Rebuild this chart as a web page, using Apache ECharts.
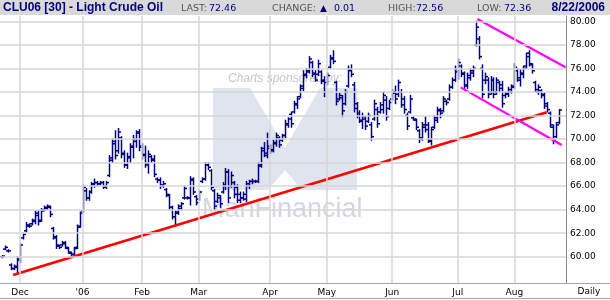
<!DOCTYPE html>
<html><head><meta charset="utf-8">
<script src="https://cdn.jsdelivr.net/npm/echarts@6/dist/echarts.min.js"></script>
<style>html,body{margin:0;padding:0;background:#fff}#c{width:610px;height:300px}</style>
</head><body><div id="c"></div><script>
// Trading-day index of the first bar (0 = Dec 1, 2005)
const firstDay = -6;
// Daily bars: [open, high, low, close]
const priceBars = [
[60.0,60.1,59.9,60.05],[60.65,60.9,60.6,60.8],[60.5,60.6,60.4,60.5],[59.3,59.4,58.9,59.0],[59.0,59.3,58.9,59.2],[59.1,60.0,58.5,59.8],
[59.7,61.1,59.5,61.0],[61.6,62.0,61.5,61.9],[62.2,62.9,62.1,62.7],[62.6,62.8,62.5,62.6],[62.8,63.2,62.7,63.1],[63.0,63.9,62.8,63.7],
[63.5,63.9,62.7,63.0],[63.1,64.1,63.0,63.9],[64.0,64.3,63.9,64.2],[64.1,64.4,64.0,64.3],[64.2,64.3,63.4,63.6],[62.4,62.5,61.5,61.7],
[61.6,61.8,60.7,61.0],[60.9,61.0,60.7,60.8],[61.0,61.3,60.9,61.1],[61.2,61.3,60.7,60.8],[60.7,60.8,60.3,60.4],[60.3,60.4,60.0,60.2],
[60.2,60.8,60.1,60.7],[60.8,62.7,60.7,62.5],[62.6,63.8,62.5,63.7],[63.9,66.1,63.8,65.9],[65.6,65.8,64.8,65.0],[65.0,65.6,64.8,65.5],
[65.5,66.3,65.4,66.2],[66.1,66.6,65.9,66.3],[66.3,66.4,66.0,66.2],[66.2,66.4,66.1,66.3],[66.3,66.4,65.8,66.0],[65.9,66.4,65.8,66.3],
[66.9,68.6,66.8,68.4],[68.2,70.0,68.0,69.8],[69.6,70.7,68.3,68.6],[69.0,70.9,68.8,70.6],[70.1,70.2,68.4,68.7],[68.8,69.0,67.6,67.8],
[67.8,68.8,67.5,68.5],[68.4,69.6,68.0,69.4],[69.3,70.3,68.4,70.0],[69.8,70.7,69.3,70.5],[70.6,70.8,69.0,69.3],[69.4,69.6,68.3,68.6],
[68.7,69.4,67.6,67.9],[67.8,69.0,67.1,68.7],[68.5,68.6,68.0,68.2],[68.3,68.6,66.8,67.0],[66.6,66.7,66.3,66.5],[66.5,66.7,65.8,66.0],
[66.1,66.4,65.9,66.2],[65.7,65.8,65.1,65.3],[65.2,65.3,64.0,64.2],[64.2,64.3,63.2,63.4],[63.4,63.9,62.6,63.8],[63.7,64.4,63.6,64.3],
[64.1,64.6,64.0,64.5],[65.0,66.0,64.9,65.8],[65.0,65.1,64.9,65.0],[65.0,66.8,64.4,66.6],[66.5,66.7,65.3,65.5],[65.1,65.2,64.4,64.6],
[64.9,65.6,64.8,65.5],[66.4,66.7,66.3,66.6],[66.6,68.0,66.5,67.8],[67.8,68.0,67.4,67.6],[67.3,67.4,65.7,65.9],[65.6,65.7,64.0,64.3],
[64.7,65.4,64.6,65.2],[65.0,65.2,64.2,64.5],[65.5,66.3,65.4,66.1],[66.0,67.5,65.7,67.2],[67.2,67.4,64.6,65.0],[66.0,67.2,65.9,66.9],
[66.3,66.4,65.0,65.3],[65.9,66.1,64.6,64.8],[65.3,65.5,64.6,65.0],[65.0,65.5,64.8,65.3],[64.9,66.4,64.7,66.2],[66.0,66.5,65.8,66.4],
[66.4,66.6,66.2,66.4],[66.4,66.5,66.3,66.4],[66.4,68.0,66.3,67.8],[67.7,69.3,67.6,69.0],[69.2,69.7,68.5,68.8],[68.6,70.5,68.4,69.2],
[69.4,69.5,68.8,69.0],[69.1,69.9,68.9,69.7],[69.6,70.5,69.4,70.3],[70.1,70.2,69.3,69.5],[69.9,70.4,69.8,70.3],[70.3,71.6,70.1,71.3],
[71.2,71.8,71.0,71.7],[72.1,72.3,71.0,71.3],[72.3,73.2,72.2,73.0],[72.9,73.6,72.6,73.4],[73.6,74.6,73.5,74.5],[74.3,75.8,74.1,75.5],
[75.4,76.0,75.2,75.7],[75.8,77.0,75.6,76.8],[76.5,76.6,75.3,75.5],[75.6,75.8,74.9,75.0],[75.5,76.7,75.4,76.4],[75.7,75.8,74.7,74.9],
[75.0,75.3,73.6,74.0],[74.8,75.6,74.6,75.4],[76.1,77.1,76.0,76.9],[76.8,77.5,76.4,76.6],[74.8,74.9,72.9,73.2],[73.4,73.9,73.3,73.7],
[73.5,73.7,71.9,72.4],[73.0,74.2,72.9,74.0],[74.5,76.2,74.4,75.9],[75.8,76.3,75.3,75.5],[74.6,74.8,72.3,72.6],[73.0,73.1,71.8,72.0],
[72.2,72.4,71.4,71.6],[71.5,72.2,70.9,71.9],[71.7,71.9,70.8,71.1],[71.5,72.2,71.4,72.0],[71.2,71.4,69.9,70.2],[71.7,73.3,71.6,73.0],
[72.5,72.7,71.0,71.3],[72.3,73.1,72.2,72.9],[72.5,74.0,72.2,73.7],[73.3,73.6,71.6,71.9],[72.6,73.3,72.5,73.1],[73.4,74.2,73.3,74.0],
[73.9,74.5,73.0,73.4],[73.8,75.0,73.6,74.8],[74.0,74.2,72.7,72.9],[73.4,73.6,72.2,72.5],[72.0,72.2,70.8,71.1],[72.3,73.7,72.2,73.4],
[71.8,71.9,71.6,71.7],[71.6,71.7,70.8,71.0],[70.7,70.8,69.7,70.0],[70.1,71.4,69.9,71.2],[71.0,71.9,70.6,70.8],[71.2,71.4,69.7,69.9],
[69.8,71.0,69.5,70.8],[71.0,72.0,70.9,71.8],[71.6,72.7,71.4,72.5],[72.4,72.6,71.8,72.2],[72.4,73.6,72.3,73.4],[73.2,73.3,72.9,73.1],
[73.4,74.6,73.3,74.4],[74.4,75.2,74.3,75.0],[75.0,76.2,74.9,75.9],[75.7,76.8,75.1,76.5],[76.2,76.3,75.3,75.6],[75.5,75.7,74.3,74.6],
[74.5,75.6,74.3,75.4],[75.2,76.0,75.0,75.8],[75.6,76.2,75.3,76.0],[78.0,80.0,77.9,79.5],[78.5,78.7,76.8,77.0],[76.0,76.3,73.5,73.8],
[75.0,75.6,74.7,75.3],[75.0,75.2,73.5,73.8],[74.0,75.3,73.8,75.0],[75.0,75.2,73.5,73.8],[74.0,75.2,73.8,75.0],[74.8,74.9,74.0,74.3],
[74.6,74.9,72.7,73.0],[73.7,74.0,73.5,73.9],[73.8,74.4,73.6,74.2],[74.0,74.6,73.9,74.4],[74.5,76.4,74.3,76.1],[75.8,76.0,74.9,75.2],
[75.0,75.9,74.5,75.6],[75.5,76.2,75.2,76.0],[76.2,77.3,76.0,77.0],[77.3,77.5,76.2,76.4],[76.3,76.4,75.6,75.8],[74.8,74.9,74.0,74.2],
[74.0,74.6,73.8,74.4],[74.1,74.2,73.5,73.7],[73.8,73.9,72.6,72.8],[73.0,73.1,72.3,72.5],[72.2,72.3,71.0,71.2],[71.0,71.2,69.6,69.9],
[70.2,71.4,70.1,71.2],[71.4,72.5,71.3,72.46]
];
// Month boundaries (trading-day index) and their labels
const monthTickDays = [0, 21, 41, 60, 84, 103, 125, 147, 166];
const monthLabels = ['Dec', "'06", 'Feb', 'Mar', 'Apr', 'May', 'Jun', 'Jul', 'Aug'];
// Price axis ticks
const priceTicks = [60, 62, 64, 66, 68, 70, 72, 74, 76, 78, 80];
// Trend lines: [day index, price]
const supportLine = [[-2.35, 58.45], [176.9, 72.27]];
const channelTop = [[153.6, 80.20], [183.2, 76.09]];
const channelBottom = [[148.0, 74.39], [181.9, 69.49]];
// Quote header values
const symbolTitle = 'CLU06 [30] - Light Crude Oil';
const lastPrice = 72.46;
const changeValue = '0.01';
const highValue = '72.56';
const lowValue = '72.36';
const quoteDate = '8/22/2006';

const barData = priceBars.map((b, k) => [firstDay + k, b[0], b[1], b[2], b[3]]);

function renderOHLC(params, api) {
  const d = api.value(0);
  const pO = api.coord([d, api.value(1)]);
  const pH = api.coord([d, api.value(2)]);
  const pL = api.coord([d, api.value(3)]);
  const pC = api.coord([d, api.value(4)]);
  const x = Math.round(pH[0]) + 0.5;
  const st = { stroke: '#000080', lineWidth: 1.5 };
  return { type: 'group', children: [
    { type: 'line', shape: { x1: x, y1: pH[1] - 0.5, x2: x, y2: pL[1] + 0.5 }, style: st },
    { type: 'line', shape: { x1: x - 2.5, y1: pO[1], x2: x, y2: pO[1] }, style: st },
    { type: 'line', shape: { x1: x, y1: pC[1], x2: x + 2.5, y2: pC[1] }, style: st }
  ]};
}

const NAVY = '#000080';
function htext(x, str, color, extra) {
  return { type: 'text', x: x, y: 9, z: 10,
    style: Object.assign({ text: str, fill: color, verticalAlign: 'middle', align: 'left',
      font: '9.5px "DejaVu Sans"' }, extra || {}) };
}
const gridStyle = { color: '#d6d6d6', width: 1.5, type: 'solid', opacity: 1 };

const chart = echarts.init(document.getElementById('c'), null, { renderer: 'canvas' });
chart.setOption({
  animation: false,
  backgroundColor: '#ffffff',
  grid: { left: 0, right: 44, top: 16, bottom: 17, containLabel: false, outerBoundsMode: 'none' },
  xAxis: {
    type: 'value', min: -6.72, max: 183.35,
    axisLine: { show: false, onZero: false },
    axisTick: { show: false, customValues: monthTickDays },
    splitLine: { show: false },
    axisLabel: { customValues: monthTickDays, margin: 5, color: '#000', fontFamily: 'DejaVu Sans', fontSize: 9,
      formatter: v => monthLabels[monthTickDays.indexOf(Math.round(v))] || '' }
  },
  yAxis: {
    type: 'value', position: 'right', min: 57.77, max: 80.45, scale: true,
    axisLine: { show: true, onZero: false, lineStyle: { color: '#8c8c8c', width: 1 } },
    axisTick: { show: false, customValues: priceTicks },
    splitLine: { show: false },
    axisLabel: { customValues: priceTicks, margin: 4, color: '#000', fontFamily: 'DejaVu Sans', fontSize: 9,
      formatter: v => v.toFixed(2) }
  },
  graphic: { elements: [
    { type: 'rect', shape: { x: 0, y: 0, width: 610, height: 15 }, style: { fill: '#d9d9d9' }, z: 5 },
    { type: 'line', shape: { x1: 0, y1: 283.5, x2: 610, y2: 283.5 }, style: { stroke: '#a6a6a6', lineWidth: 1 }, z: 5 },
    { type: 'line', shape: { x1: 0, y1: 298.5, x2: 610, y2: 298.5 }, style: { stroke: '#a6a6a6', lineWidth: 1 }, z: 5 },
    { type: 'text', x: 3, y: 8, z: 10, style: { text: symbolTitle, fill: NAVY, font: 'bold 12px "Liberation Sans"', verticalAlign: 'middle' } },
    htext(181, 'LAST:', '#555555'),
    htext(209, lastPrice.toFixed(2), NAVY),
    htext(272, 'CHANGE:', '#555555'),
    htext(320, '\u25B2', NAVY, { font: '9px "DejaVu Sans"' }),
    htext(334, changeValue, NAVY),
    htext(388, 'HIGH:', '#555555'),
    htext(416, highValue, NAVY),
    htext(477, 'LOW:', '#555555'),
    htext(504, lowValue, NAVY),
    { type: 'text', x: 605, y: 8, z: 10, style: { text: quoteDate, fill: NAVY, font: 'bold 12px "Liberation Sans"', align: 'right', verticalAlign: 'middle' } },
    { type: 'text', x: 589, y: 292, z: 10, style: { text: 'Daily', fill: '#000', font: '9px "DejaVu Sans"', align: 'center', verticalAlign: 'middle' } },
    // watermark
    { type: 'text', x: 228, y: 79, z: -2, style: { text: 'Charts sponsored by:', fill: '#c6c6c6', font: 'italic 12px "Liberation Sans"', verticalAlign: 'middle' } },
    { type: 'polygon', z: -2, shape: { points: [[213,88],[250,88],[285,148],[320,88],[357,88],[357,190],[302,190],[285,170],[268,190],[213,190]] }, style: { fill: '#dfe4ee' } },
    { type: 'text', x: 202, y: 223, z: -2, style: { text: 'ManFinancial', fill: '#d0d7e5', font: '27px "Liberation Sans"', verticalAlign: 'bottom' } }
  ]},
  series: [
    { type: 'line', name: 'grid', data: [], symbol: 'none', z: 1, silent: true,
      markLine: { silent: true, symbol: 'none', label: { show: false }, lineStyle: gridStyle,
        emphasis: { disabled: true },
        data: priceTicks.map(v => ({ yAxis: v })).concat(monthTickDays.map(d => ({ xAxis: d }))) } },
    { type: 'custom', name: 'CLU06', renderItem: renderOHLC, data: barData,
      encode: { x: 0, y: [1, 2, 3, 4] }, z: 3 },
    { type: 'line', data: supportLine, symbol: 'none', clip: false, z: 4,
      lineStyle: { color: '#ff0000', width: 2.6 },
      markLine: { silent: true, symbol: 'none', data: [{ yAxis: lastPrice }],
        lineStyle: { opacity: 0, width: 0 },
        label: { show: true, position: 'end', distance: 1, formatter: lastPrice.toFixed(2),
          color: '#fff', backgroundColor: NAVY, fontFamily: 'DejaVu Sans', fontSize: 9,
          padding: [2, 8, 1, 3] } } },
    { type: 'line', data: channelTop, symbol: 'none', z: 4, lineStyle: { color: '#ff00ff', width: 2.2 } },
    { type: 'line', data: channelBottom, symbol: 'none', z: 4, lineStyle: { color: '#ff00ff', width: 2.2 } }
  ]
});
</script></body></html>
